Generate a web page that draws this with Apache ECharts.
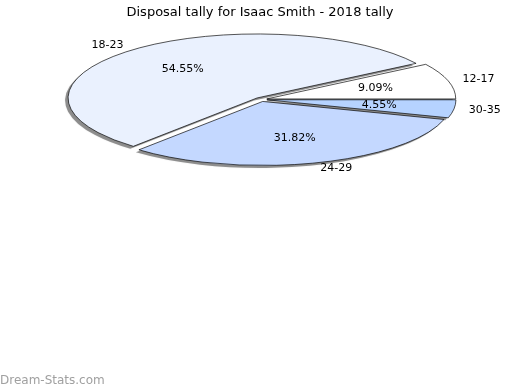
<!DOCTYPE html>
<html>
<head>
<meta charset="utf-8">
<script src="https://cdn.jsdelivr.net/npm/echarts@6/dist/echarts.min.js"></script>
<style>html,body{margin:0;padding:0;background:#fff;}#c{width:520px;height:390px;}</style>
</head>
<body>
<div id="c"></div>
<script>
const categories = ['12-17', '18-23', '24-29', '30-35'];
const values = [2, 12, 7, 1];
const colors = ['#ffffff', '#eaf1fe', '#c4d8ff', '#b6d3ff'];
const titleText = 'Disposal tally for Isaac Smith - 2018 tally';

const total = values.reduce((a, b) => a + b, 0);
const CX = 261, CY = 99.5, RX = 189, RY = 64, EXPLODE = 6;

function sliceAngles(i) {
  let before = 0;
  for (let k = 0; k < i; k++) before += values[k];
  const a0 = before / total * Math.PI * 2;
  const a1 = (before + values[i]) / total * Math.PI * 2;
  return [a0, a1];
}

const chart = echarts.init(document.getElementById('c'), null, {renderer: 'canvas'});
chart.setOption({
  backgroundColor: '#fff',
  animation: false,
  title: {
    text: titleText, left: 'center', top: 1,
    textStyle: {fontFamily: 'DejaVu Sans', fontSize: 13, fontWeight: 'normal', color: '#000'}
  },
  graphic: [{
    type: 'text', left: 0, bottom: 3,
    style: {text: 'Dream-Stats.com', fontFamily: 'DejaVu Sans', fontSize: 12, fontWeight: 'normal', fill: '#a0a0a0'}
  }],
  series: [{
    type: 'custom',
    coordinateSystem: 'none',
    silent: true,
    data: values.map((v, i) => [v, i]),
    renderItem: function (params, api) {
      const i = params.dataIndex;
      const [a0, a1] = sliceAngles(i);
      const mid = (a0 + a1) / 2;
      const c = Math.cos(mid), s = Math.sin(mid);
      const px = CX + EXPLODE * c;
      const py = CY - EXPLODE * s * RY / RX;
      const pct = (api.value(0) / total * 100).toFixed(2) + '%';
      const font = {fontFamily: 'DejaVu Sans', fontSize: 11, fill: '#000', verticalAlign: 'middle'};
      const shape = {cx: 0, cy: 0, r: RX, r0: 0, startAngle: -a0, endAngle: -a1, clockwise: false};
      return {
        type: 'group',
        children: [{
          type: 'sector',
          x: px - 3, y: py + 2.5, scaleY: RY / RX,
          shape: shape,
          style: {fill: 'rgba(0,0,0,0.38)', shadowColor: 'rgba(0,0,0,0.3)', shadowBlur: 1.5},
          z2: 0
        }, {
          type: 'sector',
          x: px, y: py, scaleY: RY / RX,
          shape: shape,
          style: {fill: colors[i], stroke: '#000', lineWidth: 1, strokeNoScale: true},
          z2: 5
        }, {
          type: 'text',
          x: px + RX * 0.6 * c, y: py - RY * 0.6 * s,
          style: Object.assign({text: pct, align: 'center'}, font), z2: 10
        }, {
          type: 'text',
          x: px + (RX + 15) * c, y: py - (RY + 6) * s,
          style: Object.assign({text: categories[i], align: c >= 0 ? 'left' : 'right'}, font), z2: 10
        }]
      };
    }
  }]
});
</script>
</body>
</html>
